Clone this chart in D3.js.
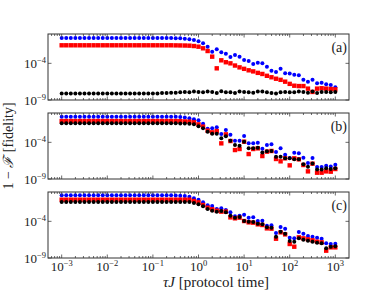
<!DOCTYPE html>
<html>
<head>
<meta charset="utf-8">
<script src="https://cdn.jsdelivr.net/npm/d3@7"></script>
<style>
  body { margin: 0; background: #fff; }
  svg text { font-family: "Liberation Serif", "DejaVu Serif", serif; fill: #222; }
</style>
</head>
<body>
<div id="chart"></div>
<script>
// protocol time, log10(tau J)
const logTau = [-3.0, -2.9, -2.8, -2.7, -2.6, -2.5, -2.4, -2.3, -2.2, -2.1,
  -2.0, -1.9, -1.8, -1.7, -1.6, -1.5, -1.4, -1.3, -1.2, -1.1,
  -1.0, -0.9, -0.8, -0.7, -0.6, -0.5, -0.4, -0.3, -0.2, -0.1,
  0.0, 0.1, 0.2, 0.3, 0.4, 0.5, 0.6, 0.7, 0.8, 0.9,
  1.0, 1.1, 1.2, 1.3, 1.4, 1.5, 1.6, 1.7, 1.8, 1.9,
  2.0, 2.1, 2.2, 2.3, 2.4, 2.5, 2.6, 2.7, 2.8, 2.9, 3.0];

// log10(1 - F), panel (a)
const blueA = [-0.55, -0.55, -0.55, -0.55, -0.55, -0.55, -0.55, -0.55, -0.55, -0.55,
  -0.55, -0.55, -0.55, -0.55, -0.55, -0.55, -0.55, -0.55, -0.55, -0.55,
  -0.55, -0.55, -0.55, -0.55, -0.56, -0.57, -0.59, -0.65, -0.73, -0.82,
  -1.0, -1.27, -1.73, -2.41, -2.09, -2.5, -2.68, -3.14, -2.86, -3.09,
  -3.55, -3.68, -4.09, -3.91, -4.0, -4.46, -5.0, -5.18, -4.73, -5.36,
  -5.4, -5.55, -5.64, -6.23, -6.5, -6.23, -6.73, -6.64, -6.85, -6.95, -7.27];
const redA = [-1.54, -1.54, -1.54, -1.54, -1.54, -1.54, -1.54, -1.54, -1.54, -1.54,
  -1.54, -1.54, -1.54, -1.54, -1.54, -1.54, -1.54, -1.54, -1.54, -1.54,
  -1.54, -1.54, -1.54, -1.54, -1.54, -1.55, -1.56, -1.57, -1.59, -1.64,
  -1.73, -1.95, -2.32, -3.09, -4.68, -3.59, -3.85, -4.0, -4.3, -4.55,
  -4.75, -4.95, -5.1, -5.3, -5.45, -5.7, -5.9, -6.1, -6.25, -6.5,
  -6.8, -7.05, -7.1, -7.1, -7.45, -7.9, -7.45, -7.4, -7.45, -7.5, -7.55];
const blackA = [-8.1, -8.1, -8.1, -8.1, -8.1, -8.1, -8.1, -8.1, -8.1, -8.1,
  -8.1, -8.1, -8.1, -8.1, -8.1, -8.1, -8.1, -8.1, -8.1, -8.1,
  -8.1, -8.1, -8.05, -8.05, -8.0, -8.0, -7.95, -7.9, -7.95, -7.85,
  -7.9, -7.95, -7.85, -7.9, -8.05, -7.8, -7.95, -7.95, -8.05, -7.85,
  -7.9, -7.95, -8.0, -7.85, -7.85, -7.95, -8.05, -8.1, -7.95, -7.9,
  -7.95, -7.95, -7.85, -7.9, -8.0, -7.85, -8.05, -7.9, -7.9, -7.95, -7.9];

// panel (b)
const blueB = [-0.5, -0.5, -0.5, -0.5, -0.5, -0.5, -0.5, -0.5, -0.5, -0.5,
  -0.5, -0.5, -0.5, -0.5, -0.5, -0.5, -0.5, -0.5, -0.5, -0.5,
  -0.5, -0.5, -0.5, -0.5, -0.5, -0.52, -0.55, -0.6, -0.73, -0.86,
  -1.0, -1.46, -2.14, -2.09, -1.95, -2.86, -2.32, -2.96, -3.77, -3.77,
  -3.14, -4.14, -4.14, -4.05, -4.87, -4.37, -4.27, -5.32, -4.82, -5.68,
  -6.14, -5.41, -5.5, -6.09, -6.82, -6.14, -7.37, -7.37, -7.18, -7.28, -7.05];
const redB = [-1.1, -1.1, -1.1, -1.1, -1.1, -1.1, -1.1, -1.1, -1.1, -1.1,
  -1.1, -1.1, -1.1, -1.1, -1.1, -1.1, -1.1, -1.1, -1.1, -1.1,
  -1.1, -1.1, -1.1, -1.1, -1.1, -1.1, -1.12, -1.15, -1.18, -1.27,
  -1.55, -1.86, -2.41, -2.64, -2.46, -4.14, -2.91, -3.82, -5.05, -4.91,
  -3.91, -5.6, -4.91, -4.82, -5.87, -5.27, -5.18, -6.27, -6.59, -6.18,
  -7.14, -6.18, -6.32, -7.09, -7.96, -6.91, -8.14, -8.14, -7.96, -8.0, -7.64];
const blackB = [-1.4, -1.4, -1.4, -1.4, -1.4, -1.4, -1.4, -1.4, -1.4, -1.4,
  -1.4, -1.4, -1.4, -1.4, -1.4, -1.4, -1.4, -1.4, -1.4, -1.4,
  -1.4, -1.4, -1.4, -1.4, -1.4, -1.4, -1.42, -1.43, -1.45, -1.55,
  -1.82, -2.09, -2.55, -2.82, -2.82, -3.46, -3.18, -3.77, -4.37, -4.46,
  -3.91, -4.82, -4.82, -4.73, -5.37, -5.23, -5.18, -5.96, -5.96, -6.18,
  -6.18, -6.32, -6.32, -7.0, -7.32, -6.87, -7.69, -7.69, -7.55, -7.64, -7.55];

// panel (c)
const blueC = [-0.45, -0.45, -0.45, -0.45, -0.45, -0.45, -0.45, -0.45, -0.45, -0.45,
  -0.45, -0.45, -0.45, -0.45, -0.45, -0.45, -0.45, -0.45, -0.45, -0.45,
  -0.45, -0.45, -0.45, -0.45, -0.46, -0.47, -0.5, -0.56, -0.64, -0.86,
  -1.05, -1.41, -1.82, -1.91, -2.32, -2.23, -2.46, -2.77, -3.32, -3.23,
  -3.09, -3.5, -3.46, -3.96, -3.91, -4.59, -4.55, -5.59, -4.77, -5.0,
  -6.23, -6.32, -5.46, -5.68, -6.0, -6.09, -6.23, -6.37, -7.0, -7.09, -7.05];
const redC = [-1.05, -1.05, -1.05, -1.05, -1.05, -1.05, -1.05, -1.05, -1.05, -1.05,
  -1.05, -1.05, -1.05, -1.05, -1.05, -1.05, -1.05, -1.05, -1.05, -1.05,
  -1.05, -1.05, -1.05, -1.05, -1.05, -1.05, -1.05, -1.05, -1.05, -1.23,
  -1.41, -1.77, -2.14, -2.36, -2.55, -2.68, -2.68, -3.46, -3.59, -3.5,
  -3.96, -4.14, -4.18, -4.41, -4.5, -4.96, -5.0, -6.37, -5.5, -5.78,
  -7.09, -7.46, -6.18, -6.32, -6.46, -6.59, -6.78, -6.87, -8.0, -7.55, -7.55];
const blackC = [-1.35, -1.35, -1.35, -1.35, -1.35, -1.35, -1.35, -1.35, -1.35, -1.35,
  -1.35, -1.35, -1.35, -1.35, -1.35, -1.35, -1.35, -1.35, -1.35, -1.35,
  -1.35, -1.35, -1.35, -1.35, -1.35, -1.35, -1.35, -1.36, -1.38, -1.5,
  -1.68, -1.96, -2.32, -2.55, -2.68, -2.59, -2.77, -3.23, -3.5, -3.41,
  -3.96, -4.05, -4.09, -4.32, -4.41, -4.82, -4.87, -6.09, -5.41, -5.68,
  -6.69, -6.78, -6.32, -6.5, -6.64, -6.78, -6.91, -7.0, -7.68, -7.46, -7.41];

const panelLabels = ["(a)", "(b)", "(c)"];
const xTickExps = [-3, -2, -1, 0, 1, 2, 3];
const yTickExps = [-4, -9];

const panels = [
  { label: panelLabels[0], blue: blueA, red: redA, black: blackA },
  { label: panelLabels[1], blue: blueB, red: redB, black: blackB },
  { label: panelLabels[2], blue: blueC, red: redC, black: blackC }
];

const W = 388, H = 291;
const left = 48, right = 349;
const tops = [34, 113, 192];
const ph = 66;

const svg = d3.select("#chart").append("svg")
  .attr("width", W).attr("height", H);

const x = d3.scaleLog()
  .domain([Math.pow(10, -3.3), Math.pow(10, 3.3)])
  .range([left, right]);

// minor x ticks
const minorX = [];
for (let e = -4; e <= 3; e++) {
  for (let m = 2; m <= 9; m++) {
    const v = m * Math.pow(10, e);
    if (v > x.domain()[0] && v < x.domain()[1]) minorX.push(v);
  }
}
const majorX = xTickExps.map(e => Math.pow(10, e));

function sup(sel, base, exp) {
  sel.append("tspan").text(base);
  sel.append("tspan").attr("dy", -5).attr("font-size", 8.5).text(exp);
}

panels.forEach((p, k) => {
  const top = tops[k];
  const y = d3.scaleLog().domain([1e-9, 1]).range([top + ph, top]);
  const g = svg.append("g");

  // data: blue circles, red squares, black circles
  const pts = s => s.map((v, i) => ({ x: Math.pow(10, logTau[i]), y: Math.pow(10, v) }));

  g.append("g").selectAll("circle").data(pts(p.blue)).join("circle")
    .attr("cx", d => x(d.x)).attr("cy", d => y(d.y))
    .attr("r", 2).attr("fill", "#0000ff");
  g.append("g").selectAll("rect").data(pts(p.red)).join("rect")
    .attr("x", d => x(d.x) - 2.2).attr("y", d => y(d.y) - 2.2)
    .attr("width", 4.4).attr("height", 4.4).attr("fill", "#ff0000");
  g.append("g").selectAll("circle").data(pts(p.black)).join("circle")
    .attr("cx", d => x(d.x)).attr("cy", d => y(d.y))
    .attr("r", 2).attr("fill", "#000");

  // ticks (inward, all sides)
  const tk = g.append("g").attr("stroke", "#444").attr("stroke-width", 0.8);
  minorX.forEach(v => {
    tk.append("line").attr("x1", x(v)).attr("x2", x(v)).attr("y1", top + ph).attr("y2", top + ph - 2);
    tk.append("line").attr("x1", x(v)).attr("x2", x(v)).attr("y1", top).attr("y2", top + 2);
  });
  majorX.forEach(v => {
    tk.append("line").attr("x1", x(v)).attr("x2", x(v)).attr("y1", top + ph).attr("y2", top + ph - 3.5);
    tk.append("line").attr("x1", x(v)).attr("x2", x(v)).attr("y1", top).attr("y2", top + 3.5);
  });
  yTickExps.forEach(e => {
    const yy = y(Math.pow(10, e));
    tk.append("line").attr("x1", left).attr("x2", left + 3.5).attr("y1", yy).attr("y2", yy);
    tk.append("line").attr("x1", right).attr("x2", right - 3.5).attr("y1", yy).attr("y2", yy);
    const t = g.append("text").attr("x", 46).attr("y", yy + 4.5)
      .attr("text-anchor", "end").attr("font-size", 13);
    sup(t, "10", "\u2212" + Math.abs(e));
  });

  g.append("rect").attr("x", left).attr("y", top)
    .attr("width", right - left).attr("height", ph)
    .attr("fill", "none").attr("stroke", "#333").attr("stroke-width", 1);

  g.append("text").attr("x", 347).attr("y", top + 18)
    .attr("text-anchor", "end").attr("font-size", 14).text(p.label);

  if (k === 2) {
    xTickExps.forEach(e => {
      const t = g.append("text").attr("x", x(Math.pow(10, e))).attr("y", top + ph + 13)
        .attr("text-anchor", "middle").attr("font-size", 13);
      sup(t, "10", e < 0 ? "\u2212" + Math.abs(e) : String(e));
    });
  }
});

// axis titles
const xl = svg.append("text").attr("x", 216).attr("y", 287)
  .attr("text-anchor", "middle").attr("font-size", 15);
xl.append("tspan").attr("font-style", "italic").text("\u03C4J");
xl.append("tspan").text(" [protocol time]");

const yl = svg.append("text")
  .attr("transform", "translate(13,146) rotate(-90)")
  .attr("text-anchor", "middle").attr("font-size", 14);
yl.append("tspan").text("1 \u2212 ");
yl.append("tspan").attr("font-style", "italic").text("\u2131");
yl.append("tspan").text(" [fidelity]");
</script>
</body>
</html>
